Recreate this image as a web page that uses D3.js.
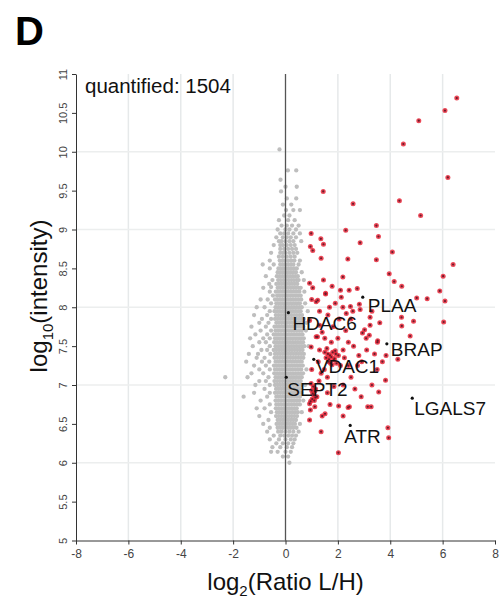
<!DOCTYPE html>
<html><head><meta charset="utf-8">
<script src="https://cdn.jsdelivr.net/npm/d3@7/dist/d3.min.js"></script>
<style>
html,body{margin:0;padding:0;background:#fff;}
svg text{font-family:"Liberation Sans",Arial,Helvetica,sans-serif;}
</style></head>
<body><svg id="chart" width="500" height="601"></svg>
<script>
// ---------- data ----------
const xTickValues = [-8,-6,-4,-2,0,2,4,6,8];
const yTickValues = [5,5.5,6,6.5,7,7.5,8,8.5,9,9.5,10,10.5,11];
const gridX = [-6,-4,-2,2,4,6];
const gridY = [6,7,8,9,10];
const quantifiedCount = 1504;

// gray (not enriched) proteins, rows: [log10 intensity, [log2 ratios]]
const grayRows = [
[10.03,[-0.23]],[9.76,[0.09,0.41]],[9.64,[-0.19]],[9.55,[0.43,0.0]],[9.49,[-0.17]],
[9.40,[0.41,0.05]],[9.32,[-0.1,0.22]],[9.25,[0.3,0.02,0.55]],[9.18,[-0.05,0.15]],
[9.12,[-0.25,0.1,0.35]],[9.05,[-0.15,0.05,0.25,0.5]],[9.00,[-0.3,0.0,0.15,0.4]],
[8.95,[-0.2,-0.05,0.1,0.3,0.55]],[8.90,[-0.35,-0.1,0.05,0.2,0.4]],
[8.85,[-0.25,-0.15,0.0,0.15,0.3,0.6]],[8.80,[-0.45,-0.2,-0.1,0.05,0.2,0.35]],
[8.75,[-0.2,-0.05,0.1,0.25,0.4]],[8.70,[-0.55,-0.2,-0.1,0.0,0.15,0.3,0.45]],
[8.65,[-0.25,-0.1,0.05,0.2,0.35]],[8.60,[-0.6,-0.22,-0.12,-0.02,0.1,0.22,0.34,0.55]],
[8.55,[-0.87,-0.45,-0.2,-0.1,0.0,0.1,0.2,0.3,0.5]],
[8.50,[-0.6,-0.27,-0.17,-0.07,0.03,0.13,0.23,0.33,0.43]],
[8.45,[-0.3,-0.2,-0.1,0.0,0.1,0.2,0.3,0.4,0.62]],
[8.40,[-0.75,-0.33,-0.23,-0.13,-0.03,0.07,0.17,0.27,0.37,0.47]],
[8.35,[-0.5,-0.28,-0.18,-0.08,0.02,0.12,0.22,0.32,0.42,0.5,0.7]],
[8.30,[-0.62,-0.35,-0.25,-0.15,-0.05,0.05,0.15,0.25,0.35,0.45]],
[8.26,[-0.55]],
[8.25,[-0.85,-0.3,-0.2,-0.1,0.0,0.1,0.2,0.3,0.4,0.5,0.58]],
[8.20,[-0.6,-0.37,-0.27,-0.17,-0.07,0.03,0.13,0.23,0.33,0.43,0.53,0.72]],
[8.15,[-0.48,-0.32,-0.22,-0.12,-0.02,0.08,0.18,0.28,0.38,0.48,0.58]],
[8.10,[-0.95,-0.68,-0.4,-0.3,-0.2,-0.1,0.0,0.1,0.2,0.3,0.4,0.5,0.6]],
[8.05,[-0.55,-0.35,-0.25,-0.15,-0.05,0.05,0.15,0.25,0.35,0.45,0.55,0.75]],
[8.00,[-1.1,-0.8,-0.38,-0.28,-0.18,-0.08,0.02,0.12,0.22,0.32,0.42,0.52,0.62]],
[7.95,[-0.6,-0.42,-0.32,-0.22,-0.12,-0.02,0.08,0.18,0.28,0.38,0.48,0.58,0.85]],
[7.90,[-1.2,-0.7,-0.37,-0.27,-0.17,-0.07,0.03,0.13,0.23,0.33,0.43,0.53,0.63]],
[7.85,[-0.9,-0.55,-0.4,-0.3,-0.2,-0.1,0.0,0.1,0.2,0.3,0.4,0.5,0.6,0.7]],
[7.80,[-1.0,-0.65,-0.35,-0.25,-0.15,-0.05,0.05,0.15,0.25,0.35,0.45,0.55,0.65,0.8]],
[7.75,[-1.3,-0.75,-0.42,-0.32,-0.22,-0.12,-0.02,0.08,0.18,0.28,0.38,0.48,0.58,0.68]],
[7.70,[-0.95,-0.55,-0.38,-0.28,-0.18,-0.08,0.02,0.12,0.22,0.32,0.42,0.52,0.62,0.78]],
[7.65,[-1.15,-0.7,-0.45,-0.35,-0.25,-0.15,-0.05,0.05,0.15,0.25,0.35,0.45,0.55,0.65]],
[7.60,[-1.35,-0.85,-0.6,-0.4,-0.3,-0.2,-0.1,0.0,0.1,0.2,0.3,0.4,0.5,0.6,0.7]],
[7.55,[-1.0,-0.75,-0.43,-0.33,-0.23,-0.13,-0.03,0.07,0.17,0.27,0.37,0.47,0.57,0.67]],
[7.50,[-1.25,-0.6,-0.38,-0.28,-0.18,-0.08,0.02,0.12,0.22,0.32,0.42,0.52,0.62,0.72,0.88]],
[7.45,[-0.92,-0.7,-0.45,-0.35,-0.25,-0.15,-0.05,0.05,0.15,0.25,0.35,0.45,0.55,0.65]],
[7.40,[-1.4,-1.05,-0.58,-0.4,-0.3,-0.2,-0.1,0.0,0.1,0.2,0.3,0.4,0.5,0.6,0.7]],
[7.35,[-1.1,-0.8,-0.42,-0.32,-0.22,-0.12,-0.02,0.08,0.18,0.28,0.38,0.48,0.58,0.68]],
[7.30,[-1.5,-0.9,-0.62,-0.38,-0.28,-0.18,-0.08,0.02,0.12,0.22,0.32,0.42,0.52,0.62]],
[7.25,[-1.2,-0.75,-0.44,-0.34,-0.24,-0.14,-0.04,0.06,0.16,0.26,0.36,0.46,0.56,0.66]],
[7.20,[-1.0,-0.6,-0.4,-0.3,-0.2,-0.1,0.0,0.1,0.2,0.3,0.4,0.5,0.6,0.8]],
[7.15,[-1.3,-0.85,-0.43,-0.33,-0.23,-0.13,-0.03,0.07,0.17,0.27,0.37,0.47,0.57,0.67]],
[7.10,[-2.3,-1.45,-0.65,-0.38,-0.28,-0.18,-0.08,0.02,0.12,0.22,0.32,0.42,0.52,0.62]],
[7.05,[-1.0,-0.75,-0.42,-0.32,-0.22,-0.12,-0.02,0.08,0.18,0.28,0.38,0.48,0.58]],
[7.00,[-1.15,-0.6,-0.4,-0.3,-0.2,-0.1,0.0,0.1,0.2,0.3,0.4,0.5,0.6,0.75]],
[6.95,[-0.8,-0.36,-0.26,-0.16,-0.06,0.04,0.14,0.24,0.34,0.44,0.54]],
[6.90,[-1.2,-0.6,-0.4,-0.3,-0.2,-0.1,0.0,0.1,0.2,0.3,0.4,0.5,0.6]],
[6.85,[-1.6,-0.7,-0.35,-0.25,-0.15,-0.05,0.05,0.15,0.25,0.35,0.45,0.55]],
[6.80,[-0.95,-0.38,-0.28,-0.18,-0.08,0.02,0.12,0.22,0.32,0.42,0.52,0.68]],
[6.75,[-0.6,-0.35,-0.25,-0.15,-0.05,0.05,0.15,0.25,0.35,0.45,0.55]],
[6.70,[-1.1,-0.8,-0.37,-0.27,-0.17,-0.07,0.03,0.13,0.23,0.33,0.43]],
[6.65,[-0.55,-0.33,-0.23,-0.13,-0.03,0.07,0.17,0.27,0.37,0.47,0.62]],
[6.60,[-1.0,-0.36,-0.26,-0.16,-0.06,0.04,0.14,0.24,0.34,0.44]],
[6.55,[-0.65,-0.3,-0.2,-0.1,0.0,0.1,0.2,0.3,0.4]],
[6.50,[-0.85,-0.34,-0.24,-0.14,-0.04,0.06,0.16,0.26,0.36,0.55]],
[6.45,[-0.6,-0.3,-0.2,-0.1,0.0,0.1,0.2,0.3,0.42]],
[6.40,[-0.7,-0.28,-0.15,0.0,0.15,0.3,0.5]],
[6.35,[-0.45,-0.2,-0.05,0.1,0.25,0.4]],
[6.30,[-0.6,-0.25,0,0.2,0.35]],
[6.25,[-0.35,-0.1,0.1,0.3]],
[6.20,[-0.5,-0.2,0.05,0.25]],
[6.14,[-0.55,-0.3,0.0,0.2]],
[6.08,[-0.1,0.1]],
[6.00,[0.15]]
];

// red (enriched) proteins: log2 ratio / log10 intensity
const redX = [6.54,6.09,5.09,4.50,6.20,1.44,4.35,2.58,5.16,3.47,2.30,3.55,0.98,1.35,1.45,2.85,0.95,1.04,4.08,1.36,2.38,3.47,6.40,3.96,2.19,6.02,4.15,1.04,1.78,2.43,2.74,4.44,5.89,1.53,2.10,1.23,5.01,5.41,6.09,
2.19,2.48,2.57,2.82,2.85,3.23,3.23,4.43,4.89,4.44,6.04,3.02,3.08,3.52,4.76,
4.29,3.56,3.14,3.27,3.91,3.94,2.02,2.80,2.91,2.89,1.36,2.03,2.39,1.51,3.82,
0.92,1.53,2.13,1.17,1.68,1.90,0.92,1.30,1.81,1.17,1.50,1.75,0.98,1.30,1.50,1.87,1.70,1.80,1.65,1.95,1.55,2.10,1.36,1.60,1.04,1.20,1.10,0.92,1.00,1.15,1.60,1.85,2.20,2.50,2.20,2.40,2.60,2.30,2.05,2.50,2.00,1.30,1.00,1.45,2.40,2.65,1.40,1.70,2.20,1.00,1.25,2.75,3.30,3.50,3.10,3.40,3.70,3.30,3.60,
2.94,3.20,3.51,3.84,2.44,0.92,1.75,1.62,1.85,1.72,1.02,1.08,0.96,1.12,1.90,2.25,
1.58,1.66,1.78,1.92,1.48,1.22,1.40,0.98,1.06,1.14,1.28,1.62,2.02,2.32,0.95,1.12];
const redY = [10.69,10.53,10.40,10.10,9.67,9.49,9.37,9.33,9.18,9.05,8.99,8.91,8.95,8.88,8.81,8.83,8.78,8.73,8.71,8.63,8.62,8.61,8.55,8.43,8.39,8.40,8.33,8.25,8.27,8.22,8.24,8.27,8.21,8.17,8.22,8.09,8.12,8.11,8.08,
8.00,8.01,7.95,8.04,7.97,7.87,7.77,7.87,7.82,7.76,7.81,7.71,7.60,7.57,7.63,
7.33,6.91,6.72,6.72,6.45,6.32,6.13,7.38,7.30,6.85,6.40,6.73,6.71,6.63,7.06,
8.31,8.18,8.13,8.07,8.00,8.05,7.83,7.77,7.75,7.62,7.60,7.55,7.49,7.45,7.42,7.34,7.38,7.42,7.30,7.28,7.35,7.25,7.15,7.10,6.89,6.85,6.80,6.76,6.93,6.95,6.90,6.98,7.00,7.10,7.45,7.55,7.50,7.70,7.85,7.85,7.60,7.95,8.10,8.35,7.25,6.95,6.60,6.75,6.60,7.20,7.30,7.25,7.00,7.20,7.45,7.40,7.30,7.95,7.80,
7.67,7.64,7.55,7.38,6.72,6.55,7.36,7.40,7.32,7.28,6.82,6.87,6.79,6.92,7.44,7.35,
7.47,7.33,7.26,7.40,7.20,7.62,7.68,7.02,6.98,6.84,7.05,7.90,7.38,7.92,6.68,6.72];

// labelled proteins
const labelNames = ["PLAA","HDAC6","BRAP","VDAC1","SEPT2","LGALS7","ATR"];
const labelX = [2.95,0.11,3.87,1.08,0.03,4.84,2.47];
const labelY = [8.13,7.93,7.53,7.33,7.10,6.83,6.48];

// ---------- layout ----------
const labelOffsets = {PLAA:[5,15],HDAC6:[4,17],BRAP:[4,12],VDAC1:[2,14],SEPT2:[1,19],LGALS7:[2,17],ATR:[-6,18]};
const svg = d3.select("#chart");
const x = d3.scaleLinear().domain([-8,8]).range([76,495]);
const y = d3.scaleLinear().domain([5,11]).range([540.5,74]);

// grid
svg.append("g").selectAll("line").data(gridX).join("line")
  .attr("x1",d=>x(d)).attr("x2",d=>x(d)).attr("y1",y(11)).attr("y2",y(5))
  .attr("stroke","#e6e9ea").attr("stroke-width",1.5);
svg.append("g").selectAll("line").data(gridY).join("line")
  .attr("x1",x(-8)).attr("x2",x(8)).attr("y1",d=>y(d)).attr("y2",d=>y(d))
  .attr("stroke","#eceeee").attr("stroke-width",1.5);

// gray points
const grayPts = [];
grayRows.forEach(r=>r[1].forEach(v=>grayPts.push([v,r[0]])));
svg.append("g").selectAll("circle").data(grayPts).join("circle")
  .attr("cx",d=>x(d[0])).attr("cy",d=>y(d[1])).attr("r",2.15)
  .attr("fill","#bebebe");

// zero line
svg.append("line").attr("x1",x(0)).attr("x2",x(0)).attr("y1",y(11)).attr("y2",y(5))
  .attr("stroke","#555").attr("stroke-width",1.3);

// red points
const redPts = redX.map((v,i)=>[v,redY[i]]);
const rg = svg.append("g");
rg.selectAll("circle.o").data(redPts).join("circle").attr("class","o")
  .attr("cx",d=>x(d[0])).attr("cy",d=>y(d[1])).attr("r",2.5)
  .attr("fill","#e8283a").attr("fill-opacity",0.85);
rg.selectAll("circle.i").data(redPts).join("circle").attr("class","i")
  .attr("cx",d=>x(d[0])).attr("cy",d=>y(d[1])).attr("r",1.1)
  .attr("fill","#6a1a2a");

// axes
const ax = svg.append("g").attr("transform",`translate(0,${y(5)})`)
  .call(d3.axisBottom(x).tickValues(xTickValues).tickSize(4).tickSizeOuter(0).tickFormat(d=>String(d)));
ax.selectAll("text").attr("font-size",12).attr("fill","#444").attr("dy","0.9em");
const ay = svg.append("g").attr("transform",`translate(${x(-8)},0)`)
  .call(d3.axisLeft(y).tickValues(yTickValues).tickSize(4).tickSizeOuter(0).tickFormat(d=>String(d)));
ay.selectAll("text").attr("font-size",11).attr("fill","#444")
  .attr("x",null).attr("dy",null)
  .attr("text-anchor","middle").attr("dominant-baseline","central")
  .attr("transform","translate(-13,0) rotate(-90)");
svg.selectAll(".domain").attr("stroke","#333");
svg.selectAll(".tick line").attr("stroke","#333");

// labelled proteins
const lg = svg.append("g");
labelNames.forEach((n,i)=>{
  const px = x(labelX[i]), py = y(labelY[i]);
  lg.append("circle").attr("cx",px).attr("cy",py).attr("r",1.6).attr("fill","#111");
  lg.append("text").attr("x",px+labelOffsets[n][0]).attr("y",py+labelOffsets[n][1])
    .attr("font-size",19).attr("fill","#111").text(n);
});

// texts
svg.append("text").attr("x",15).attr("y",45).attr("font-size",40).attr("font-weight","bold").text("D");
svg.append("text").attr("x",85).attr("y",93).attr("font-size",20.5).attr("fill","#111")
  .text("quantified: " + quantifiedCount);

const xt = svg.append("text").attr("x",x(0)).attr("y",590).attr("text-anchor","middle")
  .attr("font-size",24).attr("fill","#111");
xt.append("tspan").text("log");
xt.append("tspan").attr("font-size",15).attr("dy",6).text("2");
xt.append("tspan").attr("dy",-6).text("(Ratio L/H)");

const yt = svg.append("text").attr("transform",`translate(47,296) rotate(-90)`)
  .attr("text-anchor","middle").attr("font-size",24).attr("fill","#111");
yt.append("tspan").text("log");
yt.append("tspan").attr("font-size",15).attr("dy",6).text("10");
yt.append("tspan").attr("dy",-6).text("(intensity)");
</script></body></html>
